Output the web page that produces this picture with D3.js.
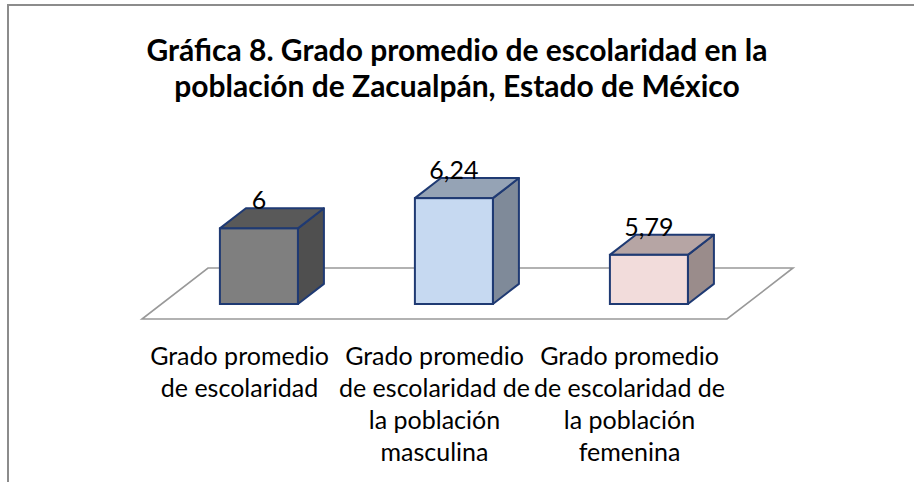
<!DOCTYPE html>
<html>
<head>
<meta charset="utf-8">
<script src="https://cdn.jsdelivr.net/npm/d3@7"></script>
<style>
  html, body { margin: 0; padding: 0; background: #fff; }
  svg { display: block; }
  text { font-family: Lato, "Open Sans", sans-serif; fill: #000; }
</style>
</head>
<body>
<svg id="chart" width="914" height="482"></svg>
<script>
// Data
const categories = [
  ["Grado promedio", "de escolaridad"],
  ["Grado promedio", "de escolaridad de", "la población", "masculina"],
  ["Grado promedio", "de escolaridad de", "la población", "femenina"]
];
const values = [6, 6.24, 5.79];
const valueLabels = ["6", "6,24", "5,79"];
const titleLines = [
  "Gráfica 8. Grado promedio de escolaridad en la",
  "población de Zacualpán, Estado de México"
];
const frontColors = ["#7f7f7f", "#c6d9f1", "#f2dcdb"];
const topColors   = ["#595959", "#95a3b5", "#b6a5a4"];
const sideColors  = ["#4f4f4f", "#7f8a99", "#9a8c8b"];

const svg = d3.select("#chart");
const W = 914, H = 482;

// Outer frame
svg.append("rect")
  .attr("x", 8).attr("y", 5)
  .attr("width", W + 20).attr("height", H + 20)
  .attr("fill", "none").attr("stroke", "#8c8c8c").attr("stroke-width", 2);

// Title
svg.append("g").selectAll("text").data(titleLines).join("text")
  .attr("x", 457).attr("y", (d, i) => 61 + i * 36)
  .attr("text-anchor", "middle")
  .style("font-weight", "bold").style("font-size", "30px")
  .text(d => d);

// 3D geometry: depth vector of the floor, and where the bars sit inside it
const depth = { dx: 66, dy: -51 };
const barFrontT = 0.294, barBackT = 0.688;
const floorFrontY = 319;
const plotX0 = 142, plotX1 = 727;

// Scales in the plane of the bars' front faces
const frontShift = { dx: depth.dx * barFrontT, dy: depth.dy * barFrontT };
const x = d3.scaleBand()
  .domain(d3.range(values.length))
  .range([plotX0 + frontShift.dx, plotX1 + frontShift.dx])
  .paddingInner(0.6).paddingOuter(0.3);
const baseY = floorFrontY + frontShift.dy;
const y = d3.scaleLinear().domain([5.4, 6.4]).range([baseY, baseY - 126]);

const bd = { dx: depth.dx * (barBackT - barFrontT), dy: depth.dy * (barBackT - barFrontT) };

// Floor
const floor = [
  [plotX0, floorFrontY],
  [plotX1, floorFrontY],
  [plotX1 + depth.dx, floorFrontY + depth.dy],
  [plotX0 + depth.dx, floorFrontY + depth.dy]
];
svg.append("polygon")
  .attr("points", floor.map(p => p.join(",")).join(" "))
  .attr("fill", "none").attr("stroke", "#999").attr("stroke-width", 1.6);

// Bars
const bars = svg.append("g").selectAll("g").data(values).join("g");
const edge = "#1f3a73";
bars.each(function (v, i) {
  const g = d3.select(this);
  const x0 = x(i), x1 = x(i) + x.bandwidth();
  const yt = y(v), yb = y(y.domain()[0]);
  const poly = pts => pts.map(p => p.join(",")).join(" ");
  // side face
  g.append("polygon")
    .attr("points", poly([[x1, yt], [x1 + bd.dx, yt + bd.dy], [x1 + bd.dx, yb + bd.dy], [x1, yb]]))
    .attr("fill", sideColors[i]).attr("stroke", edge).attr("stroke-width", 2).attr("stroke-linejoin", "round");
  // top face
  g.append("polygon")
    .attr("points", poly([[x0, yt], [x0 + bd.dx, yt + bd.dy], [x1 + bd.dx, yt + bd.dy], [x1, yt]]))
    .attr("fill", topColors[i]).attr("stroke", edge).attr("stroke-width", 2).attr("stroke-linejoin", "round");
  // front face
  g.append("rect")
    .attr("x", x0).attr("y", yt).attr("width", x1 - x0).attr("height", yb - yt)
    .attr("fill", frontColors[i]).attr("stroke", edge).attr("stroke-width", 2);
});

// Value labels
svg.append("g").selectAll("text").data(values).join("text")
  .attr("x", (d, i) => x(i) + x.bandwidth() / 2)
  .attr("y", d => y(d) - 19)
  .attr("text-anchor", "middle")
  .style("font-size", "25px")
  .text((d, i) => valueLabels[i]);

// Category labels, centred on the front edge of the floor
const catG = svg.append("g").selectAll("text").data(categories).join("text")
  .attr("text-anchor", "middle")
  .style("font-size", "25px");
catG.each(function (lines, i) {
  const cx = x(i) + x.bandwidth() / 2 - frontShift.dx;
  d3.select(this).selectAll("tspan").data(lines).join("tspan")
    .attr("x", cx).attr("y", (d, j) => 365 + j * 32)
    .text(d => d);
});
</script>
</body>
</html>
